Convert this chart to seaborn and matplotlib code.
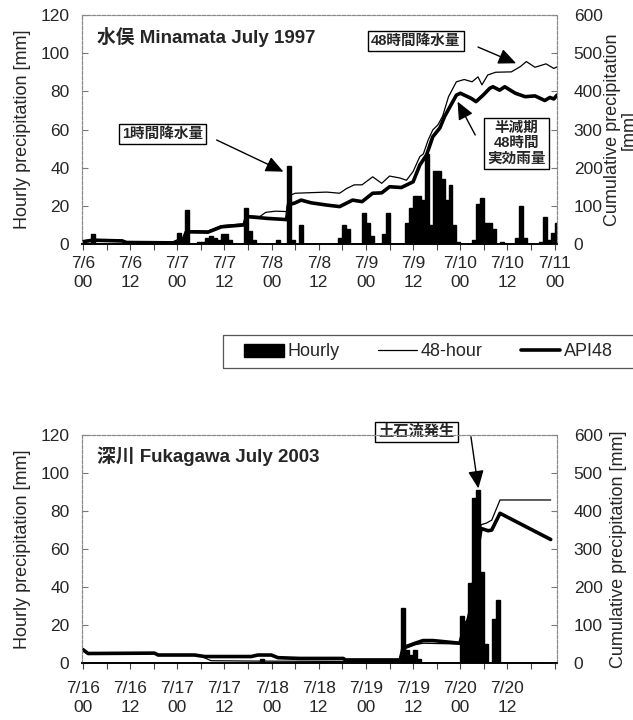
import matplotlib
matplotlib.use("Agg")
import matplotlib.pyplot as plt
import seaborn as sns
import numpy as np
from matplotlib.lines import Line2D
from matplotlib.patches import Patch, Rectangle

sns.set_style("white")
plt.rcParams['font.family'] = ['Liberation Sans', 'Noto Sans CJK JP']

# ---------------- data ----------------
# hourly rain [mm], one value per hour from 00 of the first day
mina_hourly = (
    [0, 0, 5, 0, 0, 0, 0, 0, 0, 0, 0, 0, 0, 0, 0, 0, 0, 0, 0, 1, 0, 0, 0, 0]            # 7/6
    + [6, 2, 18, 0, 0, 1, 1, 3, 4, 3, 2, 5, 5, 2, 0, 0, 0, 19, 7, 2, 0, 0, 0, 0]        # 7/7
    + [0, 2, 0, 0, 41, 2, 0, 10, 0, 0, 0, 0, 0, 0, 0, 0, 0, 3, 10, 8, 0, 0, 0, 16]      # 7/8
    + [11, 4, 0, 0, 5, 16, 0, 0, 0, 0, 11, 19, 25, 25, 23, 47, 10, 38, 38, 34, 23, 31, 10, 1]  # 7/9
    + [0, 0, 0, 2, 21, 24, 11, 11, 8, 0, 1, 0, 0, 0, 3, 20, 3, 0, 0, 0, 1, 14, 2, 6]    # 7/10
    + [11]                                                                              # 7/11
)
fuka_hourly = (
    [0] * 24                                                                            # 7/16
    + [0, 0, 0, 0, 0, 0, 0, 0, 0, 0, 0, 0, 0, 0, 0, 0, 0, 0, 0, 0, 0, 2, 0, 0]          # 7/17
    + [0] * 24                                                                          # 7/18
    + [0, 0, 0, 0, 0, 0, 0, 0, 0, 29, 7, 4, 7, 2, 0, 0, 0, 0, 0, 0, 0, 0, 0, 0]         # 7/19
    + [25, 22, 42, 87, 91, 48, 10, 0, 23, 33, 0, 0, 0, 0, 0, 0, 0, 0, 0, 0, 0, 0, 0, 0]  # 7/20
    + [0]
)

# cumulative lines: hour from start, value [mm]
mina_48h_t = [0, 2.5, 10, 11, 23, 24.3, 25.5, 26.3, 31.8, 35.2, 41, 41.6, 45, 46.5, 49,
              51.8, 52.3, 54, 62, 65.3, 67, 69, 71, 73.7, 76, 78, 80.6, 82.3, 84, 85.7,
              86.6, 87.8, 89, 90.3, 91.5, 93, 95, 97, 99, 100.5, 101.5, 103, 105, 109,
              111.3, 112.8, 115, 117.8, 119.8, 120.6]
mina_48h_v = [8, 12, 10, 6, 5, 11, 14, 35, 34, 48, 53, 74, 72, 83, 86,
              85, 126, 133, 136, 133, 145, 155, 155, 176, 159, 178, 173, 167, 190, 229,
              236, 272, 299, 312, 335, 386, 425, 431, 425, 438, 417, 443, 450, 451,
              465, 478, 463, 472, 460, 464]
mina_api_t = [0, 2.5, 10, 11, 23, 24.3, 25.5, 26.3, 31.8, 35.2, 41, 41.6, 47, 51.8, 52.3,
              53.8, 55.5, 58, 62, 65.3, 68.6, 71, 73.7, 76, 78, 81, 84, 85.7, 87.4, 89,
              90.8, 92, 95, 96, 98.7, 100, 101.8, 103.5, 104.3, 106, 107.3, 110, 112.5,
              115, 117.5, 118.8, 119.8, 120.6]
mina_api_v = [6, 10, 8, 4, 3, 9, 12, 32, 31, 45, 50, 72, 67, 64, 103,
              107, 115, 108, 102, 98, 115, 111, 133, 134, 150, 148, 163, 207, 233, 281,
              304, 334, 390, 395, 382, 373, 390, 408, 412, 403, 412, 395, 386,
              388, 376, 384, 380, 390]

fuka_48h_t = [0, 1.3, 18.2, 19.1, 28.4, 29.3, 32.6, 44.5, 80.7, 81.4, 82, 84.5, 86.5,
              95.9, 96.5, 97.5, 98.5, 99.5, 100.5, 101.3, 102.6, 104, 106.1, 119]
fuka_48h_v = [38, 26, 27, 22, 22, 21, 6, 5, 3.5, 32, 38, 48, 52,
              50, 75, 97, 139, 226, 317, 364, 368, 376, 429, 429]
fuka_api_t = [0, 1.3, 18.2, 19.1, 28.4, 31, 42.8, 44.5, 47.9, 49.6, 55.2, 66.2, 66.8,
              80.7, 81.4, 81.9, 84.5, 86.5, 89.1, 95.9, 96.5, 97.5, 98.5, 99.5, 100.5,
              101.3, 103.1, 104, 106.1, 119]
fuka_api_v = [35, 25, 26, 21, 21, 17, 17, 21, 21, 14, 12, 12, 8,
              8, 38, 42, 52, 59, 59, 52, 75, 95, 135, 220, 305,
              354, 348, 350, 394, 325]

mina_xlabels = ['7/6\n00', '7/6\n12', '7/7\n00', '7/7\n12', '7/8\n00', '7/8\n12',
                '7/9\n00', '7/9\n12', '7/10\n00', '7/10\n12', '7/11\n00']
fuka_xlabels = ['7/16\n00', '7/16\n12', '7/17\n00', '7/17\n12', '7/18\n00', '7/18\n12',
                '7/19\n00', '7/19\n12', '7/20\n00', '7/20\n12', '']


def draw_panel(ax, hourly, t48, v48, tapi, vapi, title, xlabels, rlabel, xpad, rpad):
    centers = np.arange(len(hourly)) + 0.5
    sns.barplot(x=centers, y=hourly, native_scale=True, color='black', saturation=1,
                width=1, edgecolor='black', linewidth=1.0, ax=ax)
    ax2 = ax.twinx()
    sns.lineplot(x=t48, y=v48, ax=ax2, color='black', linewidth=0.9,
                 estimator=None, sort=False)
    sns.lineplot(x=tapi, y=vapi, ax=ax2, color='black', linewidth=2.6,
                 estimator=None, sort=False)

    ax.set_xlim(-0.25, 120.6)
    ax.set_ylim(0, 120)
    ax2.set_ylim(0, 600)
    ax.set_xticks(np.arange(0, 121, 12))
    ax.set_xticks(np.arange(0, 121, 6), minor=True)
    ax.set_xticklabels(xlabels, fontsize=12.5, linespacing=1.3)
    ax.set_yticks(np.arange(0, 121, 20))
    ax2.set_yticks(np.arange(0, 601, 100))
    ax.tick_params(axis='x', which='both', direction='out', length=4, width=0.8,
                   color='#444', pad=xpad, bottom=True)
    ax.tick_params(axis='y', direction='in', length=4, width=0.8, color='#777',
                   labelsize=12.5, pad=9, left=True)
    ax2.tick_params(axis='y', direction='in', length=4, width=0.8, color='#777',
                    labelsize=12.5, pad=12, right=True)

    ax.set_xlabel('')
    ax.set_ylabel('Hourly precipitation [mm]', fontsize=13, labelpad=7)
    ax2.set_ylabel(rlabel, fontsize=13, labelpad=rpad, linespacing=0.95)

    for a in (ax, ax2):
        for side in ('left', 'top', 'right'):
            a.spines[side].set_color('#8a8a8a')
            a.spines[side].set_linewidth(0.8)
            a.spines[side].set_linestyle((0, (3, 1.5)))
        a.spines['bottom'].set_color('black')
        a.spines['bottom'].set_linewidth(1.2)

    ax.text(0.032, 0.905, title, transform=ax.transAxes, fontsize=13.5,
            fontweight='bold', ha='left', va='center')
    return ax2


box = dict(boxstyle='square,pad=0.22', fc='white', ec='black', lw=1.0)
arrow = dict(arrowstyle='-|>,head_length=0.9,head_width=0.4', color='black', lw=1.0,
             shrinkA=0, shrinkB=0, mutation_scale=12)

fig = plt.figure(figsize=(6.33, 7.2), dpi=100)
ax_top = fig.add_axes([82 / 633, 1 - 244 / 720, 475 / 633, 229 / 720])
ax_bot = fig.add_axes([82 / 633, 1 - 663 / 720, 475 / 633, 228 / 720])

draw_panel(ax_top, mina_hourly, mina_48h_t, mina_48h_v, mina_api_t, mina_api_v,
           '水俣 Minamata July 1997', mina_xlabels, 'Cumulative precipitation\n[mm]', 5, 1)
draw_panel(ax_bot, fuka_hourly, fuka_48h_t, fuka_48h_v, fuka_api_t, fuka_api_v,
           '深川 Fukagawa July 2003', fuka_xlabels, 'Cumulative precipitation [mm]', 9, 5)

# annotations (positions in hours / left-axis mm)
ax_top.text(20.2, 57.7, '1時間降水量', fontsize=10.5, fontweight='bold',
            ha='center', va='center', bbox=box)
ax_top.annotate('', xy=(51.0, 37.9), xytext=(34.0, 54.5), arrowprops=arrow)
ax_top.text(84.7, 106.4, '48時間降水量', fontsize=10.5, fontweight='bold',
            ha='center', va='center', bbox=box)
ax_top.annotate('', xy=(110.2, 94.7), xytext=(100.5, 103.2), arrowprops=arrow)
ax_top.text(110.3, 52.7, '半減期\n48時間\n実効雨量', fontsize=10.5, fontweight='bold',
            ha='center', va='center', linespacing=1.1, bbox=box)
ax_top.annotate('', xy=(95.3, 74.6), xytext=(99.8, 57.1), arrowprops=arrow)

ax_bot.text(84.9, 121.6, '土石流発生', fontsize=11, fontweight='bold',
            ha='center', va='center', bbox=box, clip_on=False, zorder=10)
ax_bot.annotate('', xy=(100.6, 91.9), xytext=(98.7, 119.1), arrowprops=arrow,
                annotation_clip=False)

# legend between the panels
handles = [Patch(facecolor='black', edgecolor='black'),
           Line2D([], [], color='black', lw=0.9),
           Line2D([], [], color='black', lw=2.6)]
fig.legend(handles, ['Hourly', '48-hour', 'API48'], loc='center left',
           bbox_to_anchor=(228 / 633, 1 - 352 / 720), ncol=3, frameon=False,
           fontsize=13, handlelength=2.2, handletextpad=0.2, columnspacing=2.1)
fig.add_artist(Rectangle((223 / 633, 1 - 368 / 720), 430 / 633, 33 / 720,
                         transform=fig.transFigure, fill=False, ec='#555', lw=0.9))

fig.savefig('out.png', dpi=100)
